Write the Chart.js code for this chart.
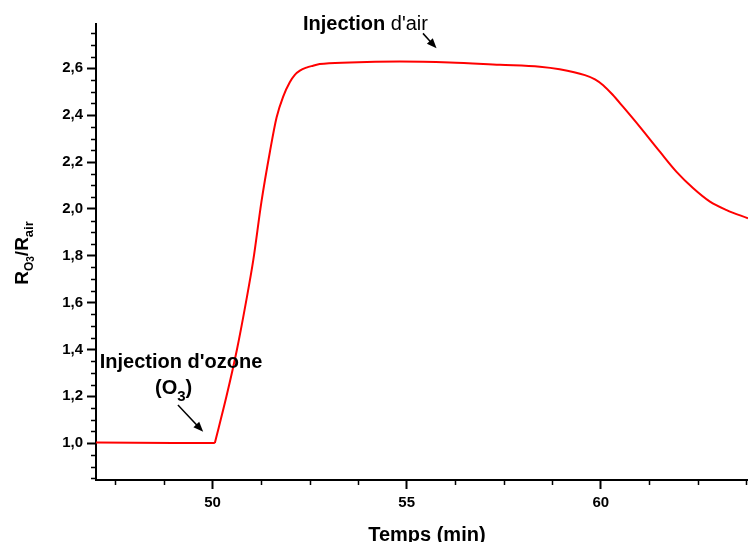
<!DOCTYPE html>
<html>
<head>
<meta charset="utf-8">
<script src="https://cdn.jsdelivr.net/npm/chart.js@4.4.1/dist/chart.umd.min.js"></script>
<style>
  body { margin: 0; background: #fff; overflow: hidden; }
  canvas { display: block; }
</style>
</head>
<body>
<canvas id="ozoneChart" width="748" height="542"></canvas>
<script>
// temps (min) et rapport R(O3)/R(air)
const temps = [47.0, 48.0, 49.0, 50.06, 50.36, 50.63, 50.86, 51.05, 51.26, 51.48, 51.65, 51.82,
  51.99, 52.12, 52.25, 52.42, 52.59, 52.76, 53.54, 54.82, 56.11, 57.40, 58.43, 58.94, 59.59,
  59.85, 60.06, 60.3, 60.57, 61.0, 61.52, 61.95, 62.38, 62.81, 63.24, 63.79];
const ratio = [1.003, 1.002, 1.001, 1.001, 1.200, 1.400, 1.600, 1.781, 2.030, 2.245, 2.390, 2.479,
  2.540, 2.572, 2.590, 2.603, 2.611, 2.618, 2.625, 2.629, 2.625, 2.615, 2.607, 2.596, 2.571,
  2.553, 2.528, 2.488, 2.436, 2.351, 2.244, 2.158, 2.088, 2.031, 1.995, 1.960];
const injectionIndex = 3; // début de l'injection d'ozone

const xTicks = [50, 55, 60];
const xMinor = [47.5, 48.75, 51.25, 52.5, 53.75, 56.25, 57.5, 58.75, 61.25, 62.5, 63.75];
const yTicks = [1.0, 1.2, 1.4, 1.6, 1.8, 2.0, 2.2, 2.4, 2.6];
const yMinor = [0.85, 0.9, 0.95, 1.05, 1.1, 1.15, 1.25, 1.3, 1.35, 1.45, 1.5, 1.55, 1.65, 1.7, 1.75,
  1.85, 1.9, 1.95, 2.05, 2.1, 2.15, 2.25, 2.3, 2.35, 2.45, 2.5, 2.55, 2.65, 2.7, 2.75];

const FONT = "'Liberation Sans', Arial, sans-serif";

// text pieces: [text, weight, size, baseline shift]
function drawRich(ctx, parts, x, y, align) {
  let total = 0;
  parts.forEach(p => {
    ctx.font = p[1] + ' ' + p[2] + 'px ' + FONT;
    total += ctx.measureText(p[0]).width;
  });
  let cx = align === 'center' ? x - total / 2 : x;
  ctx.textAlign = 'left';
  ctx.textBaseline = 'alphabetic';
  parts.forEach(p => {
    ctx.font = p[1] + ' ' + p[2] + 'px ' + FONT;
    ctx.fillText(p[0], cx, y + p[3]);
    cx += ctx.measureText(p[0]).width;
  });
}

function arrow(ctx, x1, y1, x2, y2) {
  const a = Math.atan2(y2 - y1, x2 - x1);
  const len = 10, w = 4;
  ctx.beginPath();
  ctx.moveTo(x1, y1);
  ctx.lineTo(x2 - Math.cos(a) * len * 0.8, y2 - Math.sin(a) * len * 0.8);
  ctx.lineWidth = 1.5;
  ctx.strokeStyle = '#000';
  ctx.stroke();
  ctx.beginPath();
  ctx.moveTo(x2, y2);
  ctx.lineTo(x2 - Math.cos(a) * len + Math.sin(a) * w, y2 - Math.sin(a) * len - Math.cos(a) * w);
  ctx.lineTo(x2 - Math.cos(a) * len - Math.sin(a) * w, y2 - Math.sin(a) * len + Math.cos(a) * w);
  ctx.closePath();
  ctx.fillStyle = '#000';
  ctx.fill();
}

const extras = {
  id: 'extras',
  afterDraw(chart) {
    const ctx = chart.ctx;
    const x = chart.scales.x, y = chart.scales.y;
    const area = chart.chartArea;
    ctx.save();
    // minor ticks
    ctx.strokeStyle = '#000';
    ctx.lineWidth = 1.5;
    ctx.beginPath();
    xMinor.forEach(v => {
      const px = Math.round(x.getPixelForValue(v)) + 0.5;
      ctx.moveTo(px, area.bottom);
      ctx.lineTo(px, area.bottom + 5);
    });
    yMinor.forEach(v => {
      const py = Math.round(y.getPixelForValue(v)) + 0.5;
      ctx.moveTo(area.left - 5, py);
      ctx.lineTo(area.left, py);
    });
    ctx.stroke();

    ctx.fillStyle = '#000';
    // axis titles
    drawRich(ctx, [['Temps (min)', 'bold', 20, 0]], x.getPixelForValue(55.52), chart.height - 1, 'center');
    ctx.save();
    ctx.translate(28, (area.top + area.bottom) / 2 + 1);
    ctx.rotate(-Math.PI / 2);
    drawRich(ctx, [['R', 'bold', 19, 0], ['O', 'bold', 12, 5], ['3', 'bold', 10, 6],
      ['/R', 'bold', 19, 0], ['air', 'bold', 13, 5]], 0, 0, 'center');
    ctx.restore();

    // annotations
    drawRich(ctx, [["Injection d'ozone", 'bold', 20, 0]], x.getPixelForValue(49.19), y.getPixelForValue(1.32), 'center');
    drawRich(ctx, [['(O', 'bold', 20, 0], ['3', 'bold', 15, 7], [')', 'bold', 20, 0]],
      x.getPixelForValue(49.0), y.getPixelForValue(1.21), 'center');
    arrow(ctx, x.getPixelForValue(49.11), y.getPixelForValue(1.163), x.getPixelForValue(49.76), y.getPixelForValue(1.049));

    drawRich(ctx, [['Injection', 'bold', 20, 0], [" d'air", 'normal', 20, 0]],
      x.getPixelForValue(52.33), y.getPixelForValue(2.763), 'left');
    arrow(ctx, x.getPixelForValue(55.42), y.getPixelForValue(2.749), x.getPixelForValue(55.77), y.getPixelForValue(2.685));
    ctx.restore();
  }
};

const points = temps.map((t, i) => ({ x: t, y: ratio[i] }));
const lineStyle = { borderColor: '#ff0000', borderWidth: 2, pointRadius: 0, fill: false };

const ctx = document.getElementById('ozoneChart').getContext('2d');
const chart = new Chart(ctx, {
  type: 'line',
  data: {
    datasets: [
      Object.assign({ data: points.slice(0, injectionIndex + 1), tension: 0 }, lineStyle),
      Object.assign({ data: points.slice(injectionIndex), cubicInterpolationMode: 'monotone' }, lineStyle)
    ]
  },
  options: {
    responsive: false,
    animation: false,
    layout: { padding: { top: 24, left: 0, right: 0, bottom: 0 } },
    plugins: { legend: { display: false }, tooltip: { enabled: false } },
    scales: {
      x: {
        type: 'linear',
        min: 47,
        max: 63.79,
        afterFit: s => { s.height = 62; },
        afterBuildTicks: s => { s.ticks = xTicks.map(v => ({ value: v })); },
        grid: { drawOnChartArea: false, drawTicks: true, tickLength: 9, tickWidth: 2, tickColor: '#000' },
        border: { display: true, color: '#000', width: 2 },
        ticks: {
          color: '#000',
          padding: 5,
          maxRotation: 0,
          font: { family: FONT, size: 15, weight: 'bold' }
        }
      },
      y: {
        min: 0.843,
        max: 2.789,
        afterFit: s => { s.width = 96; },
        afterBuildTicks: s => { s.ticks = yTicks.map(v => ({ value: v })); },
        grid: { drawOnChartArea: false, drawTicks: true, tickLength: 9, tickWidth: 2, tickColor: '#000' },
        border: { display: true, color: '#000', width: 2 },
        ticks: {
          color: '#000',
          padding: 4,
          font: { family: FONT, size: 15, weight: 'bold' },
          callback: v => v.toFixed(1).replace('.', ',')
        }
      }
    }
  },
  plugins: [extras]
});
</script>
</body>
</html>
